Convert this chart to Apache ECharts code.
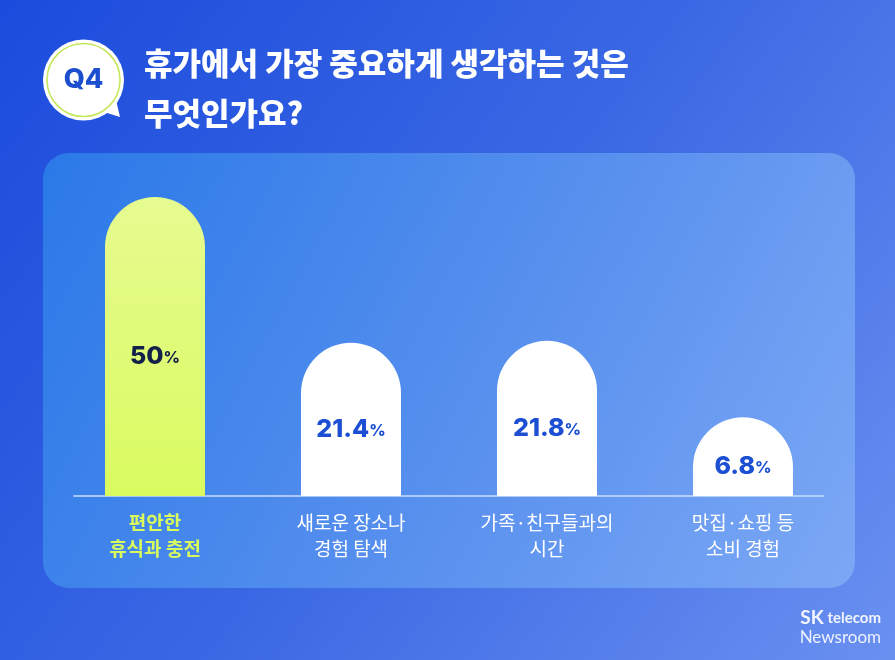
<!DOCTYPE html>
<html>
<head>
<meta charset="utf-8">
<script src="https://cdn.jsdelivr.net/npm/echarts@6/dist/echarts.min.js"></script>
<style>
html,body{margin:0;padding:0;width:895px;height:660px;overflow:hidden;}
#c{width:895px;height:660px;}
</style>
</head>
<body>
<div id="c"></div>
<script>
const categories = ['편안한\n휴식과 충전', '새로운 장소나\n경험 탐색', '가족·친구들과의\n시간', '맛집·쇼핑 등\n소비 경험'];
const values = [50, 21.4, 21.8, 6.8];
const titleText = '휴가에서 가장 중요하게 생각하는 것은\n무엇인가요?';
const badgeText = 'Q4';

const Y_MIN = -8.65, Y_MAX = 60;
const FONT = '"Noto Sans CJK KR", "Noto Sans", sans-serif';

const chart = echarts.init(document.getElementById('c'), null, {renderer: 'canvas'});

function renderBar(params, api) {
  const idx = params.dataIndex;
  const top = api.coord([api.value(0), api.value(1)]);
  const bot = api.coord([api.value(0), Y_MIN]);
  const w = 100;
  const h = bot[1] - top[1];
  const first = idx === 0;
  const fill = first
    ? new echarts.graphic.LinearGradient(0, 0, 0, 1, [
        {offset: 0, color: '#e6fb90'}, {offset: 1, color: '#dafb60'}])
    : '#ffffff';
  const numColor = first ? '#13214a' : '#1c4fd3';
  return {
    type: 'group',
    children: [
      {type: 'rect', shape: {x: top[0] - w / 2, y: top[1], width: w, height: h, r: [50, 50, 0, 0]},
       style: {fill: fill}},
      {type: 'text', z2: 10,
       style: {
         x: top[0], y: top[1] + h / 2 + 10,
         text: '{n|' + api.value(1) + '}{p|%}',
         align: 'center', verticalAlign: 'middle',
         rich: {
           n: {fontSize: 25, fontWeight: 800, fontFamily: 'Inter, Lato, sans-serif', fill: numColor},
           p: {fontSize: 16, fontWeight: 800, fontFamily: 'Inter, Lato, sans-serif', fill: numColor, padding: [4, 0, 0, 0]}
         }
       }}
    ]
  };
}

const option = {
  animation: false,
  graphic: [
    {type: 'rect', z: -10, silent: true, shape: {x: 0, y: 0, width: 895, height: 660},
     style: {fill: new echarts.graphic.LinearGradient(0, 0, 1, 1, [
       {offset: 0, color: '#1b4bdc'}, {offset: 0.5, color: '#3a68e4'}, {offset: 1, color: '#6a90f0'}])}},
    {type: 'rect', z: -9, silent: true, shape: {x: 43, y: 153, width: 812, height: 435, r: 26},
     style: {fill: new echarts.graphic.LinearGradient(0, 0, 1, 1, [
       {offset: 0, color: '#2a79e8'}, {offset: 0.55, color: '#5890ee'}, {offset: 1, color: '#7ca8f5'}])}},
    {type: 'group', z: 5, children: [
      {type: 'polygon', shape: {points: [[104, 112], [120, 117], [116, 100]]}, style: {fill: '#ffffff'}},
      {type: 'circle', shape: {cx: 83.5, cy: 80, r: 40.5}, style: {fill: '#ffffff'}},
      {type: 'circle', shape: {cx: 83.5, cy: 80, r: 36.5}, style: {fill: 'none', stroke: '#c6e65c', lineWidth: 1.6}},
      {type: 'text', style: {x: 83.5, y: 80, text: badgeText, align: 'center', verticalAlign: 'middle',
        fontSize: 27, fontWeight: 800, fontFamily: 'Inter, Lato, sans-serif', fill: '#1c4fcf'}}
    ]},
    {type: 'text', z: 5, style: {x: 881, y: 618, align: 'right', verticalAlign: 'middle',
      text: '{a|SK}{b| telecom}',
      rich: {a: {fontSize: 19, fontWeight: 'bold', fontFamily: 'Lato, "Open Sans", sans-serif', fill: '#f2f5ff'},
             b: {fontSize: 15, fontWeight: 'bold', fontFamily: 'Lato, "Open Sans", sans-serif', fill: '#f2f5ff'}}}},
    {type: 'text', z: 5, style: {x: 881, y: 638, align: 'right', verticalAlign: 'middle',
      text: 'Newsroom', fontSize: 17, fontFamily: 'Lato, "Open Sans", sans-serif', fill: '#eef2ff'}}
  ],
  title: {
    text: titleText, left: 139, top: 33,
    textStyle: {color: '#ffffff', fontSize: 31, fontWeight: 900, lineHeight: 50, fontFamily: FONT}
  },
  grid: [
    {left: 57, right: 54, top: 146, bottom: 164},
    {left: 74, right: 72, top: 400, bottom: 164}
  ],
  xAxis: [
    {type: 'category', gridIndex: 0, data: categories,
     axisLine: {show: false}, axisTick: {show: false},
     axisLabel: {
       margin: 14, color: '#ffffff', fontSize: 19, lineHeight: 26, fontFamily: FONT, interval: 0,
       formatter: function (v, i) {
         if (i === 0) return v.split('\n').map(s => '{hi|' + s + '}').join('\n');
         return v;
       },
       rich: {hi: {color: '#d9fb5c', fontWeight: 'bold', fontSize: 19, lineHeight: 26, fontFamily: FONT}}
     }},
    {type: 'category', gridIndex: 1, data: [''],
     axisLine: {show: true, lineStyle: {color: 'rgba(200,222,255,0.75)', width: 2}},
     axisTick: {show: false}, axisLabel: {show: false}}
  ],
  yAxis: [
    {type: 'value', gridIndex: 0, min: Y_MIN, max: Y_MAX, show: false, splitLine: {show: false}},
    {type: 'value', gridIndex: 1, min: 0, max: 1, show: false, splitLine: {show: false}}
  ],
  series: [{
    type: 'custom',
    xAxisIndex: 0, yAxisIndex: 0,
    renderItem: renderBar,
    encode: {x: 0, y: 1},
    data: values.map((v, i) => [i, v])
  }]
};
chart.setOption(option);
</script>
</body>
</html>
